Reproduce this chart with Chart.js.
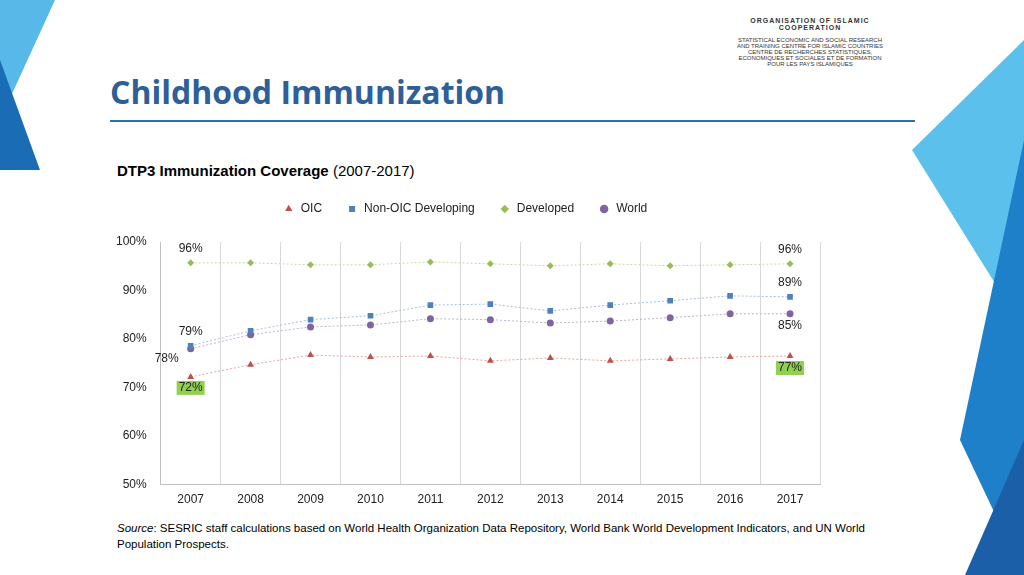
<!DOCTYPE html>
<html><head><meta charset="utf-8">
<script src="https://cdn.jsdelivr.net/npm/chart.js@4"></script>
<style>
body{margin:0;width:1024px;height:575px;position:relative;overflow:hidden;background:#fff;font-family:"Liberation Sans",Arial,sans-serif}
svg.bg{position:absolute;left:0;top:0}
#title{position:absolute;left:110px;top:70px;font:bold 32px "Open Sans",sans-serif;color:#2f5f98}
#rule{position:absolute;left:110px;top:120px;width:805px;height:2px;background:#2f6fb0}
#sub{position:absolute;left:117px;top:162px;font-size:15px;color:#000}
#src{position:absolute;left:117px;top:520px;font-size:11.5px;line-height:16px;width:760px}
#logo{position:absolute;left:735px;top:17px;font-size:6px;color:#333;text-align:center;width:150px}
#wrap{position:absolute;left:110px;top:179px;width:720px;height:336px}
</style></head><body>
<svg class="bg" width="1024" height="575">
<polygon points="0,0 55,0 0,120" fill="#58b8e8"/>
<polygon points="0,60 40,170 0,170" fill="#1a6db5"/>
<polygon points="1024,40 912,150 1024,330" fill="#5bc0ec"/>
<polygon points="1024,140 960,440 1024,575" fill="#1e80c8"/>
<polygon points="1024,440 965,575 1024,575" fill="#1a5fa8"/>
</svg>
<div id="logo"><b style="font-size:7px;letter-spacing:1px">ORGANISATION OF ISLAMIC COOPERATION</b><br><br>STATISTICAL ECONOMIC AND SOCIAL RESEARCH AND TRAINING CENTRE FOR ISLAMIC COUNTRIES<br>CENTRE DE RECHERCHES STATISTIQUES, ECONOMIQUES ET SOCIALES ET DE FORMATION POUR LES PAYS ISLAMIQUES</div>
<div id="title">Childhood Immunization</div>
<div id="rule"></div>
<div id="sub"><b>DTP3 Immunization Coverage</b> (2007-2017)</div>
<div id="wrap"><canvas id="c" width="720" height="336"></canvas></div>
<div id="src"><i>Source</i>: SESRIC staff calculations based on World Health Organization Data Repository, World Bank World Development Indicators, and UN World Population Prospects.</div>
<script>
const years=['2007','2008','2009','2010','2011','2012','2013','2014','2015','2016','2017'];
const oic=[72.2,74.7,76.7,76.3,76.5,75.5,76.1,75.5,75.9,76.3,76.5];
const nonOic=[78.6,81.7,84.0,84.8,87.0,87.2,85.8,87.0,87.9,88.9,88.7];
const developed=[95.7,95.7,95.3,95.3,95.9,95.5,95.1,95.5,95.1,95.3,95.5];
const world=[78.0,80.9,82.5,82.9,84.2,84.0,83.3,83.7,84.4,85.2,85.2];
const labels=[
 {ds:0,i:0,t:'72%',dy:11,bg:'#92d050'},{ds:0,i:10,t:'77%',dy:12,bg:'#92d050'},
 {ds:1,i:0,t:'79%',dy:-14},{ds:1,i:10,t:'89%',dy:-14},
 {ds:2,i:0,t:'96%',dy:-14},{ds:2,i:10,t:'96%',dy:-14},
 {ds:3,i:0,t:'78%',dx:-24,dy:10},{ds:3,i:10,t:'85%',dy:12}];
const lblPlugin={id:'lbl',afterDatasetsDraw(ch){const c=ch.ctx;c.save();c.font='12px "Liberation Sans",Arial';c.textAlign='center';c.textBaseline='middle';
 labels.forEach(l=>{const p=ch.getDatasetMeta(l.ds).data[l.i];const x=p.x+(l.dx||0),y=p.y+l.dy;
 if(l.bg){const w=c.measureText(l.t).width+4;c.fillStyle=l.bg;c.fillRect(x-w/2,y-7,w,14);}
 c.fillStyle='#222';c.fillText(l.t,x,y);});c.restore();}};
const gapPlugin={id:'gap',beforeInit(ch){const f=ch.legend.fit;ch.legend.fit=function(){f.bind(ch.legend)();this.height+=17;}}};
function ds(label,data,color,line,ps,r){return{label,data,borderColor:line,backgroundColor:color,pointBackgroundColor:color,borderWidth:1,borderDash:[2,2],pointStyle:ps,pointRadius:r,pointBorderWidth:0,tension:0}}
new Chart(document.getElementById('c'),{type:'line',
 data:{labels:years,datasets:[
  ds('OIC',oic,'#c0504d','#e6a5a3','triangle',4),
  ds('Non-OIC Developing',nonOic,'#4f81bd','#a7bfdc','rect',4),
  ds('Developed',developed,'#9bbb59','#c6d9a3','rectRot',3.5),
  ds('World',world,'#8064a2','#c0b1d1','circle',3.5)]},
 options:{responsive:false,animation:false,
  layout:{padding:{left:0,right:10,top:0,bottom:0}},
  plugins:{legend:{labels:{usePointStyle:true,boxHeight:6,font:{size:12,family:'Liberation Sans'},color:'#222',padding:24}},tooltip:{enabled:false}},
  scales:{x:{offset:true,grid:{offset:true,color:'#d9d9d9',drawTicks:false},border:{color:'#bfbfbf'},ticks:{padding:8,font:{size:12},color:'#222'}},
   y:{min:50,max:100,ticks:{stepSize:10,callback:v=>v+'%',padding:6,font:{size:12},color:'#222'},grid:{display:false},border:{color:'#bfbfbf'}}}},
 plugins:[lblPlugin,gapPlugin]});
</script>
</body></html>
